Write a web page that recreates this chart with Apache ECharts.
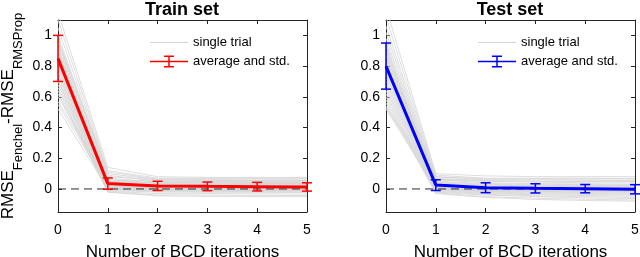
<!DOCTYPE html>
<html>
<head>
<meta charset="utf-8">
<script src="https://cdn.jsdelivr.net/npm/echarts@6/dist/echarts.min.js"></script>
<style>html,body{margin:0;padding:0;background:#fff}#c{width:640px;height:257px}</style>
</head>
<body>
<div id="c"></div>
<script>
// ---- data ----
const iterations = [0, 1, 2, 3, 4, 5];
const yTickValues = [0, 0.2, 0.4, 0.6, 0.8, 1];

const trainMean = [0.85, 0.035, 0.02, 0.017, 0.015, 0.013];
const trainStd  = [0.15, 0.037, 0.03, 0.028, 0.028, 0.027];
const testMean  = [0.80, 0.025, 0.008, 0.004, 0.002, -0.002];
const testStd   = [0.15, 0.035, 0.032, 0.03, 0.027, 0.03];

const trainTrials = [
  [1.15, 0.14, 0.08, 0.075, 0.075, 0.075],
  [1.10, 0.12, 0.07, 0.07, 0.07, 0.07],
  [1.05, 0.10, 0.06, 0.06, 0.058, 0.058],
  [1.00, 0.09, 0.05, 0.05, 0.05, 0.05],
  [0.98, 0.08, 0.06, 0.055, 0.055, 0.055],
  [0.96, 0.11, 0.065, 0.065, 0.065, 0.065],
  [0.95, 0.07, 0.045, 0.045, 0.042, 0.042],
  [0.93, 0.06, 0.04, 0.038, 0.036, 0.035],
  [0.92, 0.05, 0.035, 0.03, 0.03, 0.03],
  [0.90, 0.045, 0.03, 0.028, 0.026, 0.025],
  [0.90, 0.00, -0.01, -0.01, -0.01, -0.01],
  [0.88, 0.04, 0.025, 0.022, 0.02, 0.02],
  [0.87, 0.035, 0.02, 0.018, 0.016, 0.015],
  [0.86, 0.03, 0.02, 0.015, 0.014, 0.012],
  [0.85, 0.03, 0.015, 0.012, 0.01, 0.01],
  [0.84, 0.025, 0.012, 0.01, 0.008, 0.008],
  [0.83, 0.06, 0.05, 0.05, 0.05, 0.05],
  [0.82, 0.02, 0.01, 0.008, 0.006, 0.005],
  [0.80, 0.02, 0.008, 0.005, 0.004, 0.003],
  [0.79, 0.03, 0.02, 0.02, 0.02, 0.02],
  [0.78, 0.015, 0.005, 0.003, 0.002, 0.001],
  [0.76, 0.01, 0.003, 0.001, 0.0, 0.0],
  [0.75, 0.01, 0.0, -0.002, -0.003, -0.003],
  [0.73, 0.005, -0.005, -0.006, -0.007, -0.008],
  [0.71, 0.0, -0.01, -0.012, -0.012, -0.013],
  [0.70, -0.005, -0.015, -0.016, -0.017, -0.018],
  [0.68, -0.01, -0.02, -0.022, -0.022, -0.023],
  [0.66, -0.015, -0.03, -0.03, -0.032, -0.033],
  [0.64, -0.02, -0.04, -0.04, -0.042, -0.043],
  [0.62, -0.02, -0.045, -0.048, -0.05, -0.05],
  [0.60, 0.05, 0.04, 0.04, 0.04, 0.04],
  [0.57, 0.04, 0.03, 0.032, 0.033, 0.034],
  [0.55, 0.02, 0.01, 0.012, 0.012, 0.012],
  [0.52, 0.0, -0.005, -0.004, -0.004, -0.004]
];

const testTrials = [
  [1.18, 0.10, 0.085, 0.08, 0.08, 0.08],
  [1.12, 0.09, 0.07, 0.07, 0.07, 0.068],
  [1.06, 0.08, 0.06, 0.06, 0.058, 0.055],
  [1.02, 0.07, 0.055, 0.05, 0.05, 0.05],
  [0.98, 0.065, 0.05, 0.045, 0.04, 0.04],
  [0.95, 0.06, 0.04, 0.035, 0.033, 0.03],
  [0.92, 0.05, 0.035, 0.03, 0.028, 0.025],
  [0.90, 0.045, 0.03, 0.025, 0.022, 0.02],
  [0.88, 0.04, 0.025, 0.02, 0.016, 0.014],
  [0.86, 0.035, 0.02, 0.015, 0.012, 0.01],
  [0.84, 0.03, 0.015, 0.01, 0.008, 0.005],
  [0.82, 0.03, 0.012, 0.008, 0.005, 0.002],
  [0.81, 0.025, 0.01, 0.005, 0.002, 0.0],
  [0.80, 0.02, 0.005, 0.002, 0.0, -0.003],
  [0.78, 0.02, 0.003, 0.0, -0.003, -0.006],
  [0.77, 0.015, 0.0, -0.004, -0.006, -0.009],
  [0.75, 0.01, -0.005, -0.008, -0.01, -0.013],
  [0.74, 0.01, -0.008, -0.012, -0.014, -0.017],
  [0.72, 0.005, -0.012, -0.016, -0.019, -0.022],
  [0.70, 0.0, -0.016, -0.02, -0.024, -0.027],
  [0.68, 0.0, -0.02, -0.026, -0.03, -0.033],
  [0.66, -0.005, -0.025, -0.032, -0.036, -0.04],
  [0.64, -0.01, -0.03, -0.038, -0.043, -0.047],
  [0.62, -0.015, -0.035, -0.045, -0.05, -0.055],
  [0.60, -0.02, -0.04, -0.05, -0.058, -0.063],
  [0.58, -0.025, -0.05, -0.06, -0.067, -0.072],
  [0.56, -0.03, -0.055, -0.068, -0.075, -0.08],
  [0.54, 0.06, 0.05, 0.05, 0.05, 0.05],
  [0.53, 0.03, 0.02, 0.02, 0.02, 0.02],
  [0.52, 0.0, -0.01, -0.01, -0.012, -0.012],
  [0.87, 0.08, 0.065, 0.065, 0.065, 0.065],
  [0.93, 0.02, 0.01, 0.01, 0.01, 0.01]
];

const zeroLine = [0, 0];
const xRange = [0, 5];

// ---- chart ----
const FONT = '"Liberation Sans", Arial, Helvetica, sans-serif';
const AX = '#262626';
const chart = echarts.init(document.getElementById('c'), null, {renderer: 'canvas'});

const grids = [
  {left: 58, top: 20, width: 249, height: 192, outerBoundsMode: 'none', containLabel: false},
  {left: 386, top: 20, width: 249, height: 192, outerBoundsMode: 'none', containLabel: false}
];

function xAxes(g) {
  return [
    {type: 'value', gridIndex: g, min: 0, max: 5, interval: 1, position: 'bottom',
     axisLine: {onZero: false, lineStyle: {color: AX, width: 1}},
     axisTick: {inside: true, length: 4, lineStyle: {color: AX}},
     axisLabel: {color: '#000', fontSize: 14, fontFamily: FONT, margin: 11},
     splitLine: {show: false},
     name: 'Number of BCD iterations', nameLocation: 'middle', nameGap: 32,
     nameTextStyle: {color: '#000', fontSize: 17, fontFamily: FONT}},
    {type: 'value', gridIndex: g, min: 0, max: 5, interval: 1, position: 'top',
     axisLine: {onZero: false, lineStyle: {color: AX, width: 1}},
     axisTick: {inside: true, length: 4, lineStyle: {color: AX}},
     axisLabel: {show: false}, splitLine: {show: false}}
  ];
}
function yAxes(g, withName) {
  const main = {type: 'value', gridIndex: g, min: -0.15, max: 1.1, position: 'left',
     axisLine: {show: true, onZero: false, lineStyle: {color: AX, width: 1}},
     axisTick: {show: true, inside: true, length: 4, lineStyle: {color: AX}, customValues: yTickValues},
     axisLabel: {color: '#000', fontSize: 14, fontFamily: FONT, margin: 6, customValues: yTickValues},
     splitLine: {show: false}};
  if (withName) {
    main.name = '{m|RMSE}{s|Fenchel}{m|-RMSE}{s|RMSProp}';
    main.nameLocation = 'middle';
    main.nameGap = 30;
    main.nameTextStyle = {color: '#000', fontFamily: FONT, rich: {
      m: {fontSize: 17, fontFamily: FONT, color: '#000', lineHeight: 28, verticalAlign: 'top', padding: [0, 0, 0, 0]},
      s: {fontSize: 13, fontFamily: FONT, color: '#000', lineHeight: 28, verticalAlign: 'top', padding: [12, 0, 0, 0]}
    }};
  }
  return [main,
    {type: 'value', gridIndex: g, min: -0.15, max: 1.1, position: 'right',
     axisLine: {show: true, onZero: false, lineStyle: {color: AX, width: 1}},
     axisTick: {show: true, inside: true, length: 4, lineStyle: {color: AX}, customValues: yTickValues},
     axisLabel: {show: false, customValues: yTickValues}, splitLine: {show: false}}
  ];
}

function errRender(color) {
  return function (params, api) {
    const x = api.value(0), lo = api.value(2), hi = api.value(3);
    const pLo = api.coord([x, lo]), pHi = api.coord([x, hi]);
    const w = 5;
    const st = {stroke: color, lineWidth: 1.5};
    return {type: 'group', children: [
      {type: 'line', shape: {x1: pLo[0], y1: pLo[1], x2: pHi[0], y2: pHi[1]}, style: st},
      {type: 'line', shape: {x1: pLo[0] - w, y1: pLo[1], x2: pLo[0] + w, y2: pLo[1]}, style: st},
      {type: 'line', shape: {x1: pHi[0] - w, y1: pHi[1], x2: pHi[0] + w, y2: pHi[1]}, style: st}
    ]};
  };
}

function buildSeries(trials, mean, std, color, g, suffix) {
  const xi = g * 2, yi = g * 2;
  const s = [];
  trials.forEach(function (t) {
    s.push({type: 'line', name: 'single trial' + suffix, xAxisIndex: xi, yAxisIndex: yi,
      data: iterations.map(function (x, i) { return [x, t[i]]; }),
      showSymbol: false, symbol: 'none', silent: true, z: 1, animation: false,
      color: '#d4d4d4', lineStyle: {color: '#d4d4d4', width: 0.8}, itemStyle: {color: '#d4d4d4'}});
  });
  s.push({type: 'line', name: 'zero' + suffix, xAxisIndex: xi, yAxisIndex: yi,
    data: xRange.map(function (x, i) { return [x, zeroLine[i]]; }),
    showSymbol: false, symbol: 'none', silent: true, z: 2, animation: false,
    lineStyle: {color: '#2a2a2a', width: 1, type: [8, 5]}});
  s.push({type: 'custom', name: 'average and std.' + suffix, xAxisIndex: xi, yAxisIndex: yi,
    data: iterations.map(function (x, i) { return [x, mean[i], mean[i] - std[i], mean[i] + std[i]]; }),
    renderItem: errRender(color), z: 4, animation: false,
    color: color, itemStyle: {color: color, borderColor: color}, encode: {x: 0, y: [1, 2, 3]}});
  s.push({type: 'line', name: 'average and std.' + suffix, xAxisIndex: xi, yAxisIndex: yi,
    data: iterations.map(function (x, i) { return [x, mean[i]]; }),
    showSymbol: false, symbol: 'none', z: 3, animation: false,
    color: color, lineStyle: {color: color, width: 3}, itemStyle: {color: color}});
  return s;
}

const lineIcon = 'path://M0 0 h38 v1 h-38 z';
const errIcon = 'path://M0 5.25 h38 v1.5 h-38 z M18.25 0.75 h1.5 v10.5 h-1.5 z M14 0 h10 v1.5 h-10 z M14 10.5 h10 v1.5 h-10 z';

function legend(left, suffix, color) {
  return {left: left, top: 36, orient: 'vertical', itemWidth: 38, itemHeight: 12, itemGap: 6,
    padding: 0, selectedMode: false,
    textStyle: {fontSize: 13, fontFamily: FONT, color: '#000'},
    formatter: function (n) { return n.replace(' (test)', ''); },
    data: [{name: 'single trial' + suffix, icon: lineIcon, itemStyle: {color: '#d4d4d4', borderWidth: 0}},
           {name: 'average and std.' + suffix, icon: errIcon, itemStyle: {color: color, borderWidth: 0}}]};
}

const option = {
  backgroundColor: '#fff',
  animation: false,
  title: [
    {text: 'Train set', left: 182, top: 1, padding: 0, textAlign: 'center',
     textStyle: {fontSize: 18, fontWeight: 'bold', fontFamily: FONT, color: '#000'}},
    {text: 'Test set', left: 510, top: 1, padding: 0, textAlign: 'center',
     textStyle: {fontSize: 18, fontWeight: 'bold', fontFamily: FONT, color: '#000'}}
  ],
  legend: [legend(150, '', '#ff0000'), legend(478, ' (test)', '#0000ff')],
  grid: grids,
  xAxis: xAxes(0).concat(xAxes(1)),
  yAxis: yAxes(0, true).concat(yAxes(1, false)),
  series: buildSeries(trainTrials, trainMean, trainStd, '#ff0000', 0, '')
    .concat(buildSeries(testTrials, testMean, testStd, '#0000ff', 1, ' (test)'))
};
chart.setOption(option);
</script>
</body>
</html>
